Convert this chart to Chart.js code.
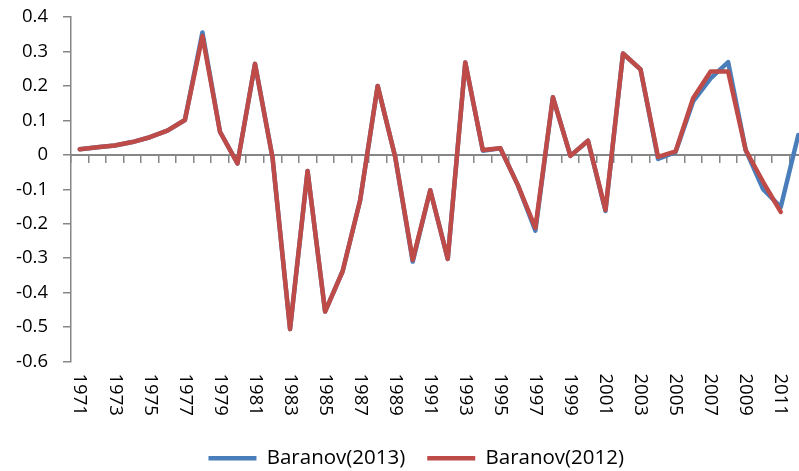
<!DOCTYPE html>
<html>
<head>
<meta charset="utf-8">
<script src="https://cdn.jsdelivr.net/npm/chart.js@4/dist/chart.umd.min.js"></script>
<style>
html, body { margin: 0; padding: 0; overflow: hidden; background: #fff; }
#wrap { width: 807px; height: 471px; }
</style>
</head>
<body>
<div id="wrap"><canvas id="chart"></canvas></div>
<script>
const years = [];
for (let y = 1971; y <= 2012; y++) years.push(String(y));

const baranov2013 = [0.016, 0.022, 0.027, 0.037, 0.051, 0.070, 0.101, 0.355, 0.067, -0.025,
    0.264, -0.008, -0.506, -0.047, -0.455, -0.338, -0.132, 0.200, -0.006, -0.310,
    -0.103, -0.302, 0.268, 0.012, 0.019, -0.088, -0.220, 0.167, -0.003, 0.041,
    -0.163, 0.294, 0.248, -0.012, 0.008, 0.155, 0.222, 0.269, 0.014, -0.100,
    -0.152, 0.057];

const baranov2012 = [0.016, 0.022, 0.027, 0.037, 0.051, 0.070, 0.101, 0.345, 0.067, -0.025,
    0.264, -0.008, -0.506, -0.047, -0.455, -0.338, -0.132, 0.200, -0.006, -0.305,
    -0.103, -0.302, 0.268, 0.014, 0.019, -0.088, -0.212, 0.167, -0.003, 0.041,
    -0.160, 0.294, 0.248, -0.006, 0.010, 0.164, 0.242, 0.242, 0.014, -0.079,
    -0.166, null];

const yTicks = [-0.6, -0.5, -0.4, -0.3, -0.2, -0.1, 0, 0.1, 0.2, 0.3, 0.4];

const axisGray = '#868686';
const fontFamily = "'Open Sans', sans-serif";

// labels read top-to-bottom (rotated +90deg), Chart.js only rotates the other way
const downLabels = {
    id: 'downLabels',
    afterLayout(chart) {
        // legend sits a bit right of centre and low in the original
        const lg = chart.legend;
        lg.left += 25.5;
        lg.top += 11.5;
        lg.bottom += 11.5;
    },
    afterDraw(chart) {
        const sc = chart.scales.xl;
        const ctx = chart.ctx;
        ctx.save();
        ctx.fillStyle = '#000';
        ctx.font = '18.5px ' + fontFamily;
        ctx.textAlign = 'left';
        ctx.textBaseline = 'middle';
        years.forEach((lab, i) => {
            if (i % 2 !== 0) return;
            const x = sc.getPixelForTick(i);
            ctx.save();
            ctx.translate(x, chart.chartArea.bottom + 12);
            ctx.rotate(Math.PI / 2);
            ctx.fillText(lab, 0, 0);
            ctx.restore();
        });
        ctx.restore();
    }
};

new Chart(document.getElementById('chart'), {
    type: 'line',
    data: {
        labels: years,
        datasets: [
            {
                label: 'Baranov(2013)',
                data: baranov2013,
                borderColor: '#4A7EBB',
                backgroundColor: '#4A7EBB',
                borderWidth: 4.5,
                borderJoinStyle: 'round',
                borderCapStyle: 'round',
                pointRadius: 0,
                tension: 0,
                order: 1
            },
            {
                label: 'Baranov(2012)',
                data: baranov2012,
                borderColor: '#BE4B48',
                backgroundColor: '#BE4B48',
                borderWidth: 4.5,
                borderJoinStyle: 'round',
                borderCapStyle: 'round',
                pointRadius: 0,
                tension: 0,
                order: 0
            }
        ]
    },
    options: {
        responsive: true,
        maintainAspectRatio: false,
        animation: false,
        layout: { padding: { top: 17, left: 0, right: 0, bottom: 4 } },
        plugins: {
            tooltip: { enabled: false },
            legend: {
                position: 'bottom',
                labels: {
                    usePointStyle: true,
                    pointStyle: 'line',
                    pointStyleWidth: 48,
                    color: '#000',
                    padding: 22,
                    font: { family: fontFamily, size: 20.5 },
                    sort: (a, b) => a.datasetIndex - b.datasetIndex
                }
            }
        },
        scales: {
            x: {
                type: 'category',
                position: { y: 0 },
                offset: true,
                ticks: { display: false },
                grid: {
                    offset: true,
                    drawOnChartArea: false,
                    drawTicks: true,
                    tickLength: 7,
                    color: axisGray,
                    lineWidth: 1.5
                },
                border: { color: axisGray, width: 2 }
            },
            xl: {
                type: 'category',
                position: 'bottom',
                offset: true,
                grid: { display: false },
                border: { display: false },
                afterFit: (sc) => {
                    sc.height = 53;
                    sc.paddingLeft = 0;
                    sc.paddingRight = 0;
                },
                ticks: {
                    autoSkip: false,
                    maxRotation: 0,
                    minRotation: 0,
                    color: 'rgba(0,0,0,0)',
                    font: { family: fontFamily, size: 18.5 },
                    callback: () => ''
                }
            },
            y: {
                min: yTicks[0],
                max: yTicks[yTicks.length - 1],
                afterBuildTicks: (sc) => { sc.ticks = yTicks.map(v => ({ value: v })); },
                afterFit: (sc) => {
                    sc.width = 71;
                    sc.paddingTop = 0;
                    sc.paddingBottom = 0;
                },
                ticks: {
                    color: '#000',
                    padding: 15,
                    font: { family: fontFamily, size: 18.5 },
                    callback: (v) => String(Math.round(v * 10) / 10)
                },
                grid: {
                    drawOnChartArea: false,
                    tickLength: 8,
                    color: axisGray,
                    lineWidth: 1.5
                },
                border: { color: axisGray, width: 1.5 }
            }
        }
    },
    plugins: [downLabels]
});
</script>
</body>
</html>
